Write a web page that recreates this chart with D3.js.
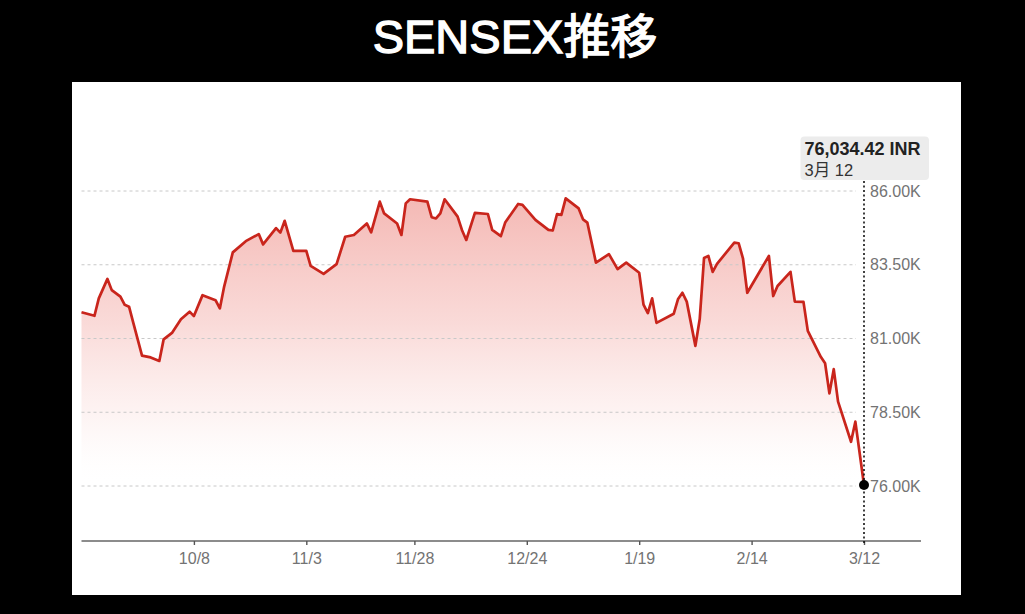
<!DOCTYPE html>
<html>
<head>
<meta charset="utf-8">
<script src="https://cdn.jsdelivr.net/npm/d3@7"></script>
<style>
  html, body { margin: 0; padding: 0; background: #000; }
  #container { width: 1025px; height: 614px; }
</style>
</head>
<body>
<div id="container"></div>
<script>
// SENSEX closing values
let dates = [
  '2024-09-12','2024-09-15','2024-09-16','2024-09-18','2024-09-19','2024-09-21','2024-09-22','2024-09-23',
  '2024-09-24','2024-09-26','2024-09-28','2024-09-30','2024-10-01','2024-10-03','2024-10-05','2024-10-07',
  '2024-10-08','2024-10-10','2024-10-13','2024-10-14','2024-10-15','2024-10-17','2024-10-20','2024-10-23',
  '2024-10-24','2024-10-27','2024-10-28','2024-10-29','2024-10-31','2024-11-03','2024-11-04','2024-11-07',
  '2024-11-10','2024-11-12','2024-11-14','2024-11-17','2024-11-18','2024-11-20','2024-11-21','2024-11-24',
  '2024-11-25','2024-11-26','2024-11-27','2024-12-01','2024-12-02','2024-12-03','2024-12-04','2024-12-05',
  '2024-12-08','2024-12-09','2024-12-10','2024-12-12','2024-12-15','2024-12-16','2024-12-18','2024-12-19',
  '2024-12-22','2024-12-23','2024-12-26','2024-12-29','2024-12-30','2024-12-31','2025-01-01','2025-01-02',
  '2025-01-05','2025-01-06','2025-01-07','2025-01-09','2025-01-12','2025-01-14','2025-01-16','2025-01-19',
  '2025-01-20','2025-01-21','2025-01-22','2025-01-23','2025-01-27','2025-01-28','2025-01-29','2025-01-30',
  '2025-02-01','2025-02-02','2025-02-03','2025-02-04','2025-02-05','2025-02-06','2025-02-10','2025-02-11',
  '2025-02-12','2025-02-13','2025-02-18','2025-02-19','2025-02-20','2025-02-23','2025-02-24','2025-02-26',
  '2025-02-27','2025-03-02','2025-03-03','2025-03-04','2025-03-05','2025-03-06','2025-03-09','2025-03-10',
  '2025-03-12'
];
let values = [
  81890, 81770, 82360, 83020, 82640, 82420, 82140, 82080,
  81520, 80420, 80360, 80240, 80970, 81200, 81650, 81910,
  81760, 82470, 82300, 82020, 82760, 83920, 84300, 84540,
  84190, 84740, 84590, 84990, 83970, 83970, 83460, 83190,
  83520, 84450, 84510, 84900, 84600, 85640, 85240, 84900,
  84510, 85580, 85720, 85640, 85110, 85070, 85240, 85720,
  85130, 84680, 84340, 85260, 85220, 84680, 84470, 84930,
  85560, 85530, 85020, 84680, 84660, 85220, 85190, 85750,
  85410, 85040, 84930, 83570, 83860, 83350, 83570, 83230,
  82150, 81860, 82360, 81530, 81840, 82340, 82550, 82250,
  80750, 81660, 83730, 83800, 83260, 83530, 84250, 84230,
  83720, 82550, 83800, 82440, 82780, 83260, 82250, 82240,
  81260, 80380, 80160, 79140, 79960, 78860, 77500, 78180,
  76034.42
];
let xTickDates = ['2024-10-08','2024-11-03','2024-11-28','2024-12-24','2025-01-19','2025-02-14','2025-03-12'];
let xTickLabels = ['10/8','11/3','11/28','12/24','1/19','2/14','3/12'];
let yTicks = [76000, 78500, 81000, 83500, 86000];
let yTickLabels = ['76.00K','78.50K','81.00K','83.50K','86.00K'];

let w = 1025,
    h = 614;

let parse = d3.utcParse('%Y-%m-%d');
let font = '"Liberation Sans", Arial, "Noto Sans CJK JP", sans-serif';

let viz = d3.select('#container')
    .append('svg')
      .attr('width', w)
      .attr('height', h)
      .style('background', '#000')
;

function main() {
    let data = dates.map((d, i) => ({ date: parse(d), value: values[i] }));

    // title (regular weight thickened with a stroke, semi-bold look)
    viz.append('text')
        .attr('x', 515)
        .attr('y', 53)
        .attr('text-anchor', 'middle')
        .attr('font-family', font)
        .attr('font-size', 47)
        .attr('fill', '#fff')
        .attr('stroke', '#fff')
        .attr('stroke-width', 1.3)
        .text('SENSEX推移');

    // white panel
    viz.append('rect')
        .attr('x', 72)
        .attr('y', 82)
        .attr('width', 889)
        .attr('height', 513)
        .attr('fill', '#fff');

    let x = d3.scaleUtc()
        .domain([parse('2024-09-12'), parse('2025-03-12')])
        .range([81.5, 864]);
    let y = d3.scaleLinear()
        .domain([76000, 86000])
        .range([486, 191]);

    let defs = viz.append('defs');
    let grad = defs.append('linearGradient')
        .attr('id', 'fade')
        .attr('gradientUnits', 'userSpaceOnUse')
        .attr('x1', 0).attr('x2', 0)
        .attr('y1', y(86000)).attr('y2', y(76000));
    grad.append('stop').attr('offset', 0).attr('stop-color', '#e8685f').attr('stop-opacity', 0.48);
    grad.append('stop').attr('offset', 0.45).attr('stop-color', '#ec7c75').attr('stop-opacity', 0.28);
    grad.append('stop').attr('offset', 0.75).attr('stop-color', '#f09a94').attr('stop-opacity', 0.12);
    grad.append('stop').attr('offset', 0.9).attr('stop-color', '#f5b5b0').attr('stop-opacity', 0.03);
    grad.append('stop').attr('offset', 1).attr('stop-color', '#ffffff').attr('stop-opacity', 0);

    // area under line
    viz.append('path')
        .datum(data)
        .attr('fill', 'url(#fade)')
        .attr('d', d3.area()
            .x(d => x(d.date))
            .y0(541)
            .y1(d => y(d.value)));

    // gridlines
    viz.append('g')
        .selectAll('line')
        .data(yTicks)
        .join('line')
          .attr('x1', 81.5)
          .attr('x2', 856)
          .attr('y1', d => y(d))
          .attr('y2', d => y(d))
          .attr('stroke', '#c8c8c8')
          .attr('stroke-width', 1)
          .attr('stroke-dasharray', '3,3');

    // y labels
    let yAxis = viz.append('g')
        .attr('transform', 'translate(870,0)')
        .call(d3.axisRight(y)
            .tickValues(yTicks)
            .tickSize(0)
            .tickPadding(0)
            .tickFormat((d, i) => yTickLabels[i]));
    yAxis.select('.domain').remove();
    yAxis.selectAll('text')
        .attr('font-family', font)
        .attr('font-size', 16)
        .attr('fill', '#737373');

    // x axis
    viz.append('line')
        .attr('x1', 81.5)
        .attr('x2', 921)
        .attr('y1', 541)
        .attr('y2', 541)
        .attr('stroke', '#666')
        .attr('stroke-width', 1.6);

    let xAxis = viz.append('g')
        .attr('transform', 'translate(0,541)')
        .call(d3.axisBottom(x)
            .tickValues(xTickDates.map(parse))
            .tickSize(4)
            .tickPadding(8)
            .tickFormat((d, i) => xTickLabels[i]));
    xAxis.select('.domain').remove();
    xAxis.selectAll('line').attr('stroke', '#555').attr('stroke-width', 1.4);
    xAxis.selectAll('text')
        .attr('font-family', font)
        .attr('font-size', 16)
        .attr('fill', '#737373');

    // price line
    viz.append('path')
        .datum(data)
        .attr('fill', 'none')
        .attr('stroke', '#c9251c')
        .attr('stroke-width', 2.7)
        .attr('stroke-linejoin', 'round')
        .attr('d', d3.line()
            .x(d => x(d.date))
            .y(d => y(d.value)));

    let last = data[data.length - 1];

    // hover marker
    viz.append('line')
        .attr('x1', x(last.date))
        .attr('x2', x(last.date))
        .attr('y1', 181)
        .attr('y2', 545)
        .attr('stroke', '#111')
        .attr('stroke-width', 1.6)
        .attr('stroke-dasharray', '2,2.5');

    viz.append('circle')
        .attr('cx', x(last.date))
        .attr('cy', y(last.value))
        .attr('r', 5)
        .attr('fill', '#000');

    // tooltip
    let tip = viz.append('g');
    tip.append('rect')
        .attr('x', 800.5)
        .attr('y', 136.5)
        .attr('width', 128.5)
        .attr('height', 43.5)
        .attr('rx', 4)
        .attr('fill', '#ececec');
    tip.append('text')
        .attr('x', 804.5)
        .attr('y', 155)
        .attr('font-family', font)
        .attr('font-weight', 'bold')
        .attr('font-size', 18)
        .attr('fill', '#222')
        .text(d3.format(',.2f')(last.value) + ' INR');
    tip.append('text')
        .attr('x', 804.5)
        .attr('y', 176)
        .attr('font-family', font)
        .attr('font-size', 16.5)
        .attr('fill', '#333')
        .text('3月 12');
}

main();
</script>
</body>
</html>
